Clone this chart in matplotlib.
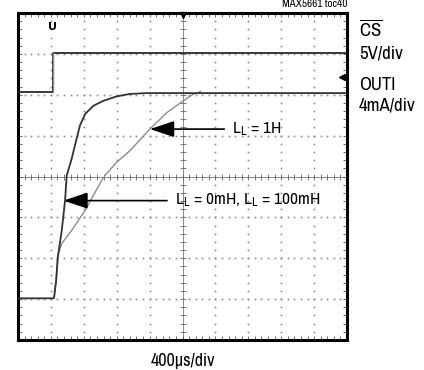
import numpy as np
import matplotlib
matplotlib.use("Agg")
import matplotlib.pyplot as plt

FONT = ['Archivo Narrow', 'Roboto Condensed', 'Liberation Sans Narrow', 'DejaVu Sans']
plt.rcParams['font.family'] = FONT
plt.rcParams['mathtext.fontset'] = 'custom'
plt.rcParams['mathtext.rm'] = 'Archivo Narrow'
plt.rcParams['mathtext.it'] = 'Archivo Narrow:italic'

# ---- data (screen divisions: x 0..10, y 0..8) ----
cs_t = [0.0, 1.06, 1.06, 10.0]
cs_v = [6.07, 6.07, 7.03, 7.03]

fast_t = [0.0, 1.08, 1.10, 1.16, 1.21, 1.33, 1.43, 1.48, 1.63, 1.73, 1.88, 2.04,
          2.29, 2.59, 3.00, 3.40, 3.91, 10.0]
fast_v = [1.02, 1.02, 1.06, 1.46, 2.03, 2.68, 3.41, 4.02, 4.43, 4.76, 5.24, 5.53,
          5.73, 5.85, 5.96, 6.02, 6.04, 6.04]

slow_t = [1.08, 1.10, 1.16, 1.21, 1.33, 1.63, 2.04, 2.54, 2.64, 3.00, 3.40, 4.01,
          4.52, 5.02, 5.30, 5.55]
slow_v = [1.02, 1.06, 1.46, 2.07, 2.36, 2.68, 3.17, 3.90, 4.02, 4.35, 4.63, 5.16,
          5.56, 5.85, 6.00, 6.08]

n_xdiv, n_ydiv = 10, 8

fig = plt.figure(figsize=(4.24, 3.70), dpi=100)
ax = fig.add_axes([18/424, 1-340/370, 329/424, 327/370])
ax.set_xlim(0, n_xdiv)
ax.set_ylim(0, n_ydiv)

# grid dots
grid_col = '#8c8c8c'
for gx in range(1, n_xdiv):
    if gx == 5:
        continue
    ys = np.arange(0.2, n_ydiv, 0.2)
    ax.plot(np.full_like(ys, gx), ys, ls='none', marker='s', ms=1.2, color=grid_col, mew=0)
for gy in range(1, n_ydiv):
    if gy == 4:
        continue
    xs = np.arange(0.2, n_xdiv, 0.2)
    ax.plot(xs, np.full_like(xs, gy), ls='none', marker='s', ms=1.2, color=grid_col, mew=0)
# center cross with ticks
ax.axvline(5, color='#777777', lw=0.6, zorder=1)
ax.axhline(4, color='#777777', lw=0.6, zorder=1)
tx = np.arange(0.2, n_xdiv, 0.2)
ax.plot(tx, np.full_like(tx, 4), ls='none', marker='|', ms=4, mew=0.6, color='#666666')
ty = np.arange(0.2, n_ydiv, 0.2)
ax.plot(np.full_like(ty, 5), ty, ls='none', marker='_', ms=4, mew=0.6, color='#666666')

# traces
ax.plot(cs_t, cs_v, color='#2a2a2a', lw=1.3, zorder=3)
ax.plot(cs_t[1:3], cs_v[1:3], color='#8a8a8a', lw=1.0, zorder=4)
ax.plot(slow_t, slow_v, color='#8c8c8c', lw=1.0, zorder=3)
ax.plot(fast_t, fast_v, color='#333333', lw=1.3, zorder=4)

# scope markers
ax.plot([5], [7.95], marker='v', ms=5, color='black', clip_on=False, zorder=5)
ax.plot([9.85], [6.44], marker='<', ms=4, color='black', clip_on=False, zorder=5)
ax.text(1.06, 7.66, 'U', ha='center', va='center', fontsize=8, fontweight='bold',
        family='DejaVu Sans')

# arrows + labels
ax.annotate('', xy=(4.01, 5.16), xytext=(6.27, 5.16),
            arrowprops=dict(arrowstyle='-|>,head_length=1.5,head_width=0.5',
                            color='black', lw=1.2, shrinkA=0, shrinkB=0))
ax.text(6.5, 5.16, r'L$_{\rm L}$ = 1H', fontsize=12.5, va='center', ha='left')
ax.annotate('', xy=(1.38, 3.41), xytext=(4.53, 3.41),
            arrowprops=dict(arrowstyle='-|>,head_length=1.5,head_width=0.5',
                            color='black', lw=1.2, shrinkA=0, shrinkB=0))
ax.text(4.78, 3.41, r'L$_{\rm L}$ = 0mH, L$_{\rm L}$ = 100mH', fontsize=12.5,
        va='center', ha='left')

# frame and ticks
for s in ax.spines.values():
    s.set_linewidth(2.2)
ax.set_xticks(np.arange(0, n_xdiv + 0.01, 1))
ax.set_yticks(np.arange(0, n_ydiv + 0.01, 1))
ax.set_xticks(np.arange(0, n_xdiv + 0.01, 0.2), minor=True)
ax.set_yticks(np.arange(0, n_ydiv + 0.01, 0.2), minor=True)
ax.tick_params(which='both', direction='in', length=3, width=0.6, color='#555555',
               top=True, right=True, labelbottom=False, labelleft=False)

# outside text
fig.text(359/424, 1-36/370, r'$\overline{\rm CS}$', fontsize=13.5, ha='left', va='baseline')
fig.text(359/424, 1-58/370, '5V/div', fontsize=13.5, ha='left', va='baseline')
fig.text(359/424, 1-90/370, 'OUTI', fontsize=13.5, ha='left', va='baseline')
fig.text(359/424, 1-111/370, '4mA/div', fontsize=13.5, ha='left', va='baseline')
fig.text(347/424, 1-4/370, 'MAX5661 toc40', fontsize=8, ha='right', va='center')
fig.text(183/424, 1-361/370, '400\u00b5s/div', fontsize=13, ha='center', va='center')

fig.savefig('out.png', dpi=100)
